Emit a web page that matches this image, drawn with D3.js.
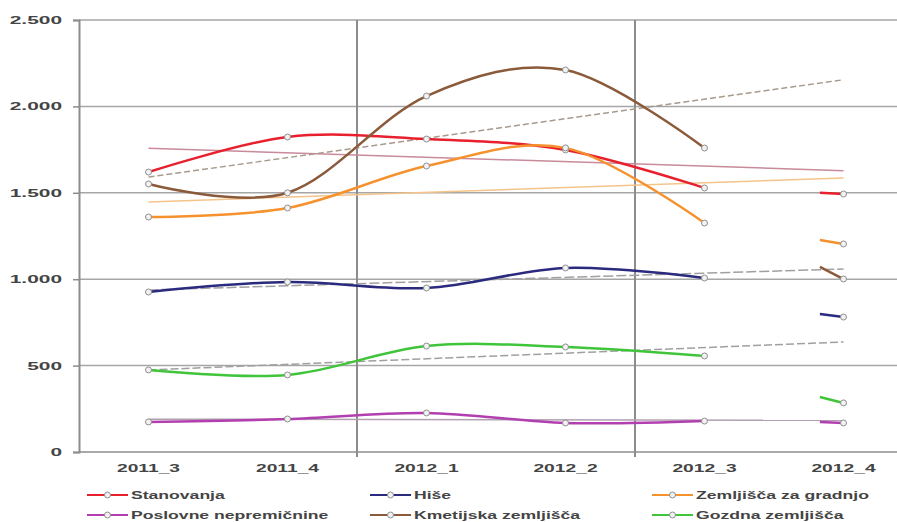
<!DOCTYPE html>
<html>
<head>
<meta charset="utf-8">
<script src="https://cdn.jsdelivr.net/npm/d3@7"></script>
<style>
  body { margin: 0; background: #fff; }
  svg text { font-family: "Liberation Sans", Arial, sans-serif; }
</style>
</head>
<body>
<div id="chart-area"></div>
<script>
// categories and values
var categories = ["2011_3", "2011_4", "2012_1", "2012_2", "2012_3", "2012_4"];
var yTicks = [0, 500, 1000, 1500, 2000, 2500];

var stanovanja = [1620, 1823, 1811, 1748, 1528, 1493];
var hise = [926, 984, 949, 1065, 1007, 781];
var zemljiscaGradnja = [1360, 1412, 1655, 1760, 1325, 1204];
var poslovne = [174, 191, 226, 168, 179, 168];
var kmetijska = [1551, 1500, 2060, 2211, 1759, 1001];
var gozdna = [475, 446, 613, 608, 556, 284];

// value at the left end of the short piece drawn into the last point
var stubStart = [1500, 799, 1227, 174, 1071, 318];

var seriesNames = ["Stanovanja", "Hiše", "Zemljišča za gradnjo",
                   "Poslovne nepremičnine", "Kmetijska zemljišča", "Gozdna zemljišča"];
var seriesColors = ["#e8202e", "#2a2a7e", "#f6922e", "#b23fb0", "#8a5a3a", "#3fc43a"];
var trendColors = ["#c98a9a", "#a0a0a0", "#f5c48a", "#b0a0b0", "#a89a8c", "#a0a0a0"];
var trendDash = [null, "10,3", null, null, "6,3", "8,3"];

var series = [stanovanja, hise, zemljiscaGradnja, poslovne, kmetijska, gozdna];

var width = 897, height = 522;
var svg = d3.select("#chart-area").append("svg")
    .attr("width", width)
    .attr("height", height);

var step = 139;
var x = d3.scaleBand()
    .domain(categories)
    .range([79, 79 + step * categories.length]);
var y = d3.scaleLinear()
    .domain([0, 2500])
    .range([452, 20]);
var cx = function (i) { return x(categories[i]) + x.bandwidth() / 2; };

// horizontal gridlines
svg.append("g").selectAll("line")
    .data(yTicks.slice(1))
    .enter().append("line")
    .attr("x1", 79).attr("x2", width)
    .attr("y1", d => y(d)).attr("y2", d => y(d))
    .attr("stroke", "#a6a6a6")
    .attr("stroke-width", 1.5);

// vertical lines every two categories
var vIdx = [2, 4];
svg.append("g").selectAll("line")
    .data(vIdx)
    .enter().append("line")
    .attr("x1", d => x(categories[d])).attr("x2", d => x(categories[d]))
    .attr("y1", y(2500)).attr("y2", y(0) + 5)
    .attr("stroke", "#8c8c8c")
    .attr("stroke-width", 2);

// y axis (ticks from d3, labels drawn wide like the picture)
var yAxis = d3.axisLeft(y)
    .tickValues(yTicks)
    .tickSize(6)
    .tickFormat("");
var yaxg = svg.append("g")
    .attr("transform", "translate(79,0)")
    .call(yAxis);
yaxg.select(".domain").attr("stroke", "#8c8c8c").attr("stroke-width", 2);
yaxg.selectAll(".tick line").attr("stroke", "#8c8c8c").attr("stroke-width", 1.5);
var fmt = d => d3.format(",")(d).replace(/,/g, ".");
svg.append("g").selectAll("text")
    .data(yTicks)
    .enter().append("text")
    .attr("transform", d => "translate(62," + (y(d) + 4) + ") scale(1.9,1)")
    .attr("text-anchor", "end")
    .attr("font-size", "11px")
    .attr("font-weight", "bold")
    .attr("fill", "#444")
    .text(fmt);

// x axis
svg.append("line")
    .attr("x1", 79).attr("x2", width)
    .attr("y1", y(0)).attr("y2", y(0))
    .attr("stroke", "#8c8c8c").attr("stroke-width", 1.5);
svg.append("g").selectAll("text")
    .data(categories)
    .enter().append("text")
    .attr("transform", (d, i) => "translate(" + cx(i) + ",472) scale(1.75,1)")
    .attr("text-anchor", "middle")
    .attr("font-size", "11px")
    .attr("font-weight", "bold")
    .attr("fill", "#444")
    .text(d => d);

// linear trend over the first five points, carried on to the last category
function trend(vals) {
    var pts = vals.slice(0, 5);
    var mx = d3.mean(pts, (d, i) => i);
    var my = d3.mean(pts);
    var sxy = d3.sum(pts, (d, i) => (i - mx) * (d - my));
    var sxx = d3.sum(pts, (d, i) => (i - mx) * (i - mx));
    var b = sxy / sxx, a = my - b * mx;
    return [[0, a], [categories.length - 1, a + b * (categories.length - 1)]];
}

var gTrend = svg.append("g");
series.forEach(function (vals, s) {
    gTrend.append("path")
        .datum(trend(vals))
        .attr("fill", "none")
        .attr("stroke", trendColors[s])
        .attr("stroke-width", 1.5)
        .attr("stroke-dasharray", trendDash[s])
        .attr("d", d3.line().x(d => cx(d[0])).y(d => y(d[1])));
});

// smoothed series lines (first five categories)
var line = d3.line()
    .x((d, i) => cx(i))
    .y(d => y(d))
    .curve(d3.curveCardinal.tension(0));

var gLines = svg.append("g");
series.forEach(function (vals, s) {
    gLines.append("path")
        .datum(vals.slice(0, 5))
        .attr("fill", "none")
        .attr("stroke", seriesColors[s])
        .attr("stroke-width", 2.5)
        .attr("d", line);
    // short piece into the last point
    var last = categories.length - 1;
    gLines.append("line")
        .attr("x1", cx(last) - 0.17 * step).attr("y1", y(stubStart[s]))
        .attr("x2", cx(last)).attr("y2", y(vals[last]))
        .attr("stroke", seriesColors[s])
        .attr("stroke-width", 2.5);
});

// markers
var gDots = svg.append("g");
series.forEach(function (vals, s) {
    gDots.selectAll(null)
        .data(vals)
        .enter().append("circle")
        .attr("cx", (d, i) => cx(i))
        .attr("cy", d => y(d))
        .attr("r", 3)
        .attr("fill", "#f2f2f2")
        .attr("stroke", "#8f8f8f")
        .attr("stroke-width", 1);
});

// legend
var legX = [87, 370, 652];
var legY = [495, 515];
var leg = svg.append("g");
seriesNames.forEach(function (name, s) {
    var lx = legX[s % 3], ly = legY[Math.floor(s / 3)];
    var item = leg.append("g").attr("transform", "translate(" + lx + "," + ly + ")");
    item.append("line")
        .attr("x1", 0).attr("x2", 41).attr("y1", 0).attr("y2", 0)
        .attr("stroke", seriesColors[s]).attr("stroke-width", 2);
    item.append("circle")
        .attr("cx", 20.5).attr("cy", 0).attr("r", 3)
        .attr("fill", "#f2f2f2").attr("stroke", "#8f8f8f");
    item.append("text")
        .attr("transform", "translate(44,4) scale(1.6,1)")
        .attr("font-size", "11px")
        .attr("font-weight", "bold")
        .attr("fill", "#444")
        .text(name);
});
</script>
</body>
</html>
